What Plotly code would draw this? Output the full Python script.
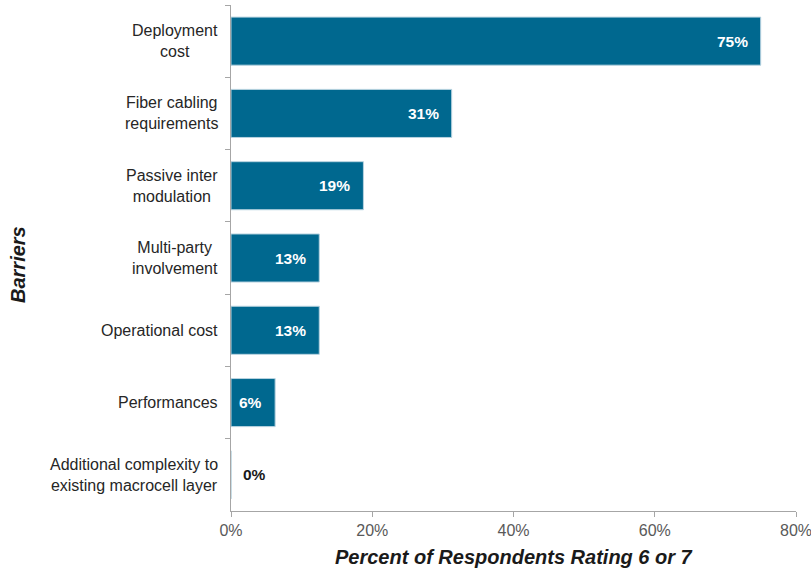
import plotly.graph_objects as go

categories = [
    "Deployment<br>cost",
    "Fiber cabling<br>requirements",
    "Passive inter<br>modulation",
    "Multi-party<br>involvement",
    "Operational cost",
    "Performances",
    "Additional complexity to<br>existing macrocell layer",
]
values = [75.0, 31.25, 18.75, 12.5, 12.5, 6.25, 0.0]
labels = ["75%", "31%", "19%", "13%", "13%", "6%", "0%"]
x_ticks = [0, 20, 40, 60, 80]
x_tick_text = ["0%", "20%", "40%", "60%", "80%"]

BAR = "#00688F"
FONT = "Liberation Sans, Arial, sans-serif"

fig = go.Figure()
fig.add_trace(go.Bar(
    y=categories, x=values, orientation="h",
    marker=dict(color=BAR, line=dict(color="#b8d3e0", width=1)),
    hoverinfo="skip",
))

annotations = []
for cat, v, lab in zip(categories, values, labels):
    if v > 0:
        annotations.append(dict(x=v, y=cat, xref="x", yref="y", text=lab,
                                showarrow=False, xanchor="right", xshift=-11,
                                font=dict(family=FONT, size=15.5, color="white", weight="bold")))
    else:
        annotations.append(dict(x=v, y=cat, xref="x", yref="y", text=lab,
                                showarrow=False, xanchor="left", xshift=10,
                                font=dict(family=FONT, size=15.5, color="#1a1a1a", weight="bold")))
    annotations.append(dict(x=0, y=cat, xref="paper", yref="y", text=cat,
                            showarrow=False, xanchor="right", xshift=-11, align="center",
                            font=dict(family=FONT, size=16, color="#262626")))

annotations.append(dict(x=0.5, y=0, xref="paper", yref="paper", text="Percent of Respondents Rating 6 or 7",
                        showarrow=False, xanchor="center", yanchor="middle", yshift=-46,
                        font=dict(family=FONT, size=20, color="#1a1a1a", weight="bold", style="italic")))
annotations.append(dict(x=0, y=0.5, xref="paper", yref="paper", text="Barriers",
                        showarrow=False, textangle=-90, xanchor="center", yanchor="middle", xshift=-213, yshift=-7,
                        font=dict(family=FONT, size=20, color="#1a1a1a", weight="bold", style="italic")))

fig.update_layout(
    width=811, height=570,
    margin=dict(l=231, r=15, t=5, b=59, autoexpand=False),
    paper_bgcolor="white", plot_bgcolor="white",
    bargap=0.335,
    showlegend=False,
    annotations=annotations,
    xaxis=dict(range=[0, 80], tickvals=x_ticks, ticktext=x_tick_text, automargin=False,
               showgrid=False, zeroline=False, showline=True, linecolor="#A6A6A6", linewidth=1,
               ticks="outside", ticklen=5, tickcolor="#A6A6A6", ticklabeloverflow="allow",
               tickfont=dict(family=FONT, size=16, color="#595959")),
    yaxis=dict(type="category", categoryorder="array", categoryarray=categories, automargin=False,
               autorange="reversed", showticklabels=False, showgrid=False, zeroline=False,
               showline=True, linecolor="#A6A6A6", linewidth=1,
               ticks="outside", ticklen=5, tickcolor="#A6A6A6", tickson="boundaries"),
)

fig.write_html("out.html")
